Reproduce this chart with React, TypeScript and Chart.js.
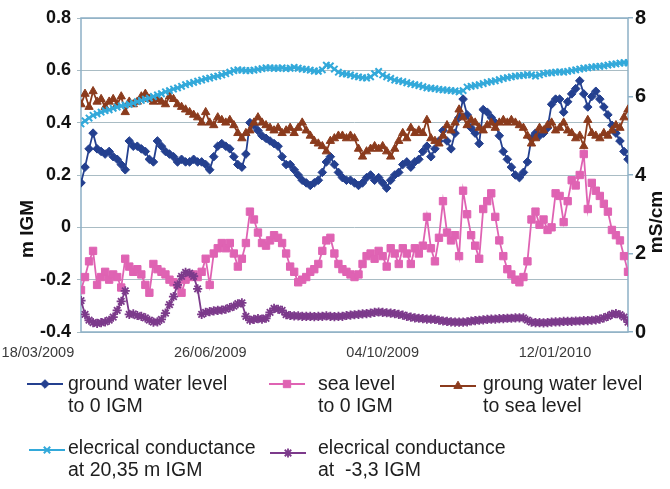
import React, { useEffect, useRef } from 'react';
import { Chart, registerables } from 'chart.js';
import { drawPoint } from 'chart.js/helpers';

Chart.register(...registerables);

// Time axis: days counted from 18/03/2009
const xTickDays = [0, 100, 200, 300];
const xTickLabels = ['18/03/2009', '26/06/2009', '04/10/2009', '12/01/2010'];
const firstSampleDay = 25;
const sampleStepDays = 7 / 3;

// ground water level to 0 IGM (m)
const groundWater = [
  0.17, 0.23, 0.30, 0.36, 0.30, 0.29, 0.28, 0.29, 0.27, 0.26,
  0.24, 0.22, 0.33, 0.31, 0.31, 0.30, 0.29, 0.26, 0.25, 0.33,
  0.31, 0.29, 0.28, 0.27, 0.25, 0.26, 0.25, 0.25, 0.26, 0.25,
  0.25, 0.24, 0.22, 0.27, 0.31, 0.32, 0.31, 0.30, 0.27, 0.24,
  0.23, 0.28, 0.40, 0.39, 0.37, 0.35, 0.34, 0.33, 0.32, 0.31,
  0.27, 0.24, 0.24, 0.22, 0.20, 0.18, 0.17, 0.16, 0.17, 0.18,
  0.21, 0.25, 0.27, 0.24, 0.21, 0.19, 0.18, 0.18, 0.17, 0.16,
  0.17, 0.19, 0.20, 0.18, 0.19, 0.17, 0.15, 0.18, 0.20, 0.21,
  0.24, 0.25, 0.23, 0.25, 0.26, 0.29, 0.31, 0.27, 0.30, 0.33,
  0.37, 0.33, 0.30, 0.36, 0.42, 0.49, 0.43, 0.38, 0.36, 0.32,
  0.45, 0.44, 0.42, 0.40, 0.35, 0.29, 0.26, 0.23, 0.20, 0.19,
  0.21, 0.25, 0.34, 0.36, 0.35, 0.36, 0.38, 0.47, 0.49, 0.49,
  0.44, 0.48, 0.51, 0.53, 0.56, 0.51, 0.46, 0.50, 0.52, 0.49,
  0.46, 0.43, 0.39, 0.36, 0.33, 0.29, 0.26,
];

// sea level to 0 IGM (m)
const seaLevel = [
  -0.24, -0.19, -0.13, -0.09, -0.22, -0.19, -0.17, -0.20, -0.18, -0.19,
  -0.23, -0.12, -0.15, -0.17, -0.16, -0.18, -0.22, -0.25, -0.14, -0.16,
  -0.17, -0.18, -0.20, -0.21, -0.22, -0.25, -0.20, -0.19, -0.18, -0.19,
  -0.17, -0.12, -0.22, -0.10, -0.08, -0.06, -0.08, -0.06, -0.10, -0.15,
  -0.12, -0.06, 0.06, 0.03, -0.02, -0.06, -0.07, -0.05, -0.03, -0.04,
  -0.06, -0.10, -0.15, -0.17, -0.21, -0.20, -0.19, -0.17, -0.16, -0.14,
  -0.09, -0.05, -0.04, -0.10, -0.14, -0.16, -0.17, -0.18, -0.19, -0.18,
  -0.14, -0.11, -0.10, -0.12, -0.09, -0.11, -0.15, -0.08, -0.10, -0.14,
  -0.08, -0.10, -0.14, -0.08, -0.10, -0.07, 0.04, -0.08, -0.13, -0.04,
  0.10, -0.02, -0.05, -0.03, -0.11, 0.14, 0.05, -0.03, -0.07, -0.12,
  0.07, 0.10, 0.13, 0.04, -0.05, -0.11, -0.16, -0.18, -0.20, -0.21,
  -0.19, -0.13, 0.03, 0.06, 0.01, 0.03, -0.01, 0.00, 0.13, 0.12,
  0.02, 0.10, 0.18, 0.16, 0.20, 0.28, 0.07, 0.17, 0.14, 0.12,
  0.09, 0.06, -0.01, -0.03, -0.05, -0.11, -0.17,
];

// ground water level to sea level (m)
const groundToSea = [
  0.47, 0.51, 0.46, 0.52, 0.48, 0.49, 0.46, 0.48, 0.49, 0.47,
  0.50, 0.44, 0.48, 0.47, 0.48, 0.50, 0.51, 0.49, 0.48, 0.49,
  0.48, 0.47, 0.50, 0.49, 0.47, 0.46, 0.45, 0.44, 0.43, 0.42,
  0.40, 0.44, 0.40, 0.39, 0.42, 0.41, 0.40, 0.41, 0.39, 0.36,
  0.34, 0.36, 0.37, 0.40, 0.42, 0.40, 0.39, 0.38, 0.37, 0.38,
  0.36, 0.37, 0.38, 0.36, 0.38, 0.40, 0.37, 0.35, 0.33, 0.32,
  0.31, 0.29, 0.33, 0.34, 0.35, 0.35, 0.34, 0.35, 0.34, 0.30,
  0.27, 0.29, 0.30, 0.31, 0.30, 0.31, 0.29, 0.27, 0.30, 0.33,
  0.36, 0.34, 0.38, 0.36, 0.37, 0.36, 0.41, 0.34, 0.33, 0.32,
  0.35, 0.39, 0.37, 0.40, 0.45, 0.42, 0.39, 0.41, 0.40, 0.38,
  0.37, 0.39, 0.40, 0.38, 0.40, 0.41, 0.40, 0.41, 0.40, 0.39,
  0.38, 0.35, 0.32, 0.34, 0.38, 0.37, 0.39, 0.40, 0.37, 0.38,
  0.40, 0.37, 0.36, 0.34, 0.35, 0.31, 0.41, 0.36, 0.35, 0.34,
  0.36, 0.35, 0.37, 0.39, 0.38, 0.42, 0.45,
];

// electrical conductance at 20,35 m IGM (mS/cm)
const ecUpper = [
  5.30, 5.38, 5.45, 5.52, 5.56, 5.60, 5.64, 5.66, 5.70, 5.73,
  5.76, 5.78, 5.80, 5.83, 5.87, 5.90, 5.93, 5.96, 6.00, 6.04,
  6.07, 6.12, 6.15, 6.19, 6.22, 6.26, 6.30, 6.33, 6.36, 6.39,
  6.42, 6.45, 6.47, 6.50, 6.52, 6.55, 6.58, 6.62, 6.66, 6.68,
  6.67, 6.66, 6.66, 6.67, 6.69, 6.71, 6.73, 6.73, 6.72, 6.72,
  6.73, 6.71, 6.72, 6.74, 6.72, 6.70, 6.69, 6.67, 6.65, 6.64,
  6.68, 6.80, 6.78, 6.70, 6.62, 6.58, 6.57, 6.55, 6.52, 6.50,
  6.48, 6.47, 6.50, 6.58, 6.64, 6.55, 6.50, 6.46, 6.42, 6.40,
  6.38, 6.35, 6.32, 6.30, 6.28, 6.25, 6.22, 6.21, 6.20, 6.18,
  6.17, 6.16, 6.15, 6.14, 6.12, 6.15, 6.24, 6.26, 6.28, 6.30,
  6.33, 6.36, 6.38, 6.40, 6.43, 6.46, 6.48, 6.50, 6.52, 6.53,
  6.54, 6.56, 6.55, 6.52, 6.55, 6.58, 6.60, 6.60, 6.62, 6.63,
  6.62, 6.64, 6.66, 6.68, 6.70, 6.72, 6.73, 6.75, 6.76, 6.77,
  6.78, 6.80, 6.82, 6.83, 6.85, 6.86, 6.86,
];

// electrical conductance at -3,3 IGM (mS/cm)
const ecLower = [
  0.80, 0.45, 0.30, 0.24, 0.22, 0.24, 0.26, 0.30, 0.38, 0.55,
  0.78, 1.05, 0.45, 0.46, 0.42, 0.40, 0.36, 0.30, 0.25, 0.26,
  0.32, 0.48, 0.70, 0.90, 1.20, 1.42, 1.52, 1.50, 1.42, 1.10,
  0.45, 0.50, 0.52, 0.54, 0.55, 0.56, 0.58, 0.62, 0.66, 0.72,
  0.74, 0.40, 0.30, 0.32, 0.34, 0.33, 0.35, 0.50, 0.60, 0.58,
  0.55, 0.44, 0.42, 0.41, 0.41, 0.40, 0.40, 0.40, 0.39, 0.40,
  0.40, 0.41, 0.40, 0.39, 0.40, 0.40, 0.42, 0.43, 0.44, 0.45,
  0.46, 0.47, 0.48, 0.50, 0.51, 0.50, 0.49, 0.48, 0.47, 0.45,
  0.43, 0.40, 0.38, 0.36, 0.35, 0.34, 0.33, 0.33, 0.32, 0.30,
  0.28, 0.27, 0.26, 0.25, 0.25, 0.25, 0.26, 0.28, 0.29, 0.30,
  0.31, 0.32, 0.33, 0.33, 0.34, 0.34, 0.35, 0.35, 0.36, 0.36,
  0.36, 0.30, 0.25, 0.24, 0.24, 0.23, 0.24, 0.25, 0.26, 0.26,
  0.27, 0.27, 0.27, 0.28, 0.28, 0.29, 0.29, 0.30, 0.31, 0.33,
  0.36, 0.40, 0.45, 0.47, 0.44, 0.38, 0.25,
];

const legendLines = [
  ['ground water level', 'to 0 IGM'],
  ['sea level', 'to 0 IGM'],
  ['groung water level', 'to sea level'],
  ['elecrical conductance', 'at 20,35 m IGM'],
  ['elecrical conductance', 'at  -3,3 IGM'],
];

const SANS = '"Liberation Sans", Arial, sans-serif';
const FRAME = '#8db0c6';
const GRID = '#a9bcc4';

// legend block placement: sample centre (sx, sy) and text start (tx, ty)
const legendPlacement = [
  { sx: 45, sy: 384, tx: 68, ty: 385 },
  { sx: 287, sy: 384, tx: 318, ty: 385 },
  { sx: 458, sy: 386, tx: 483, ty: 385 },
  { sx: 47, sy: 450, tx: 68, ty: 449 },
  { sx: 288, sy: 453, tx: 318, ty: 449 },
];

const toPoints = (values: number[]) =>
  values.map((v, i) => ({ x: firstSampleDay + i * sampleStepDays, y: v }));

const chartDecor = {
  id: 'chartDecor',
  beforeDatasetsDraw(chart: any) {
    const { ctx, chartArea: a } = chart;
    ctx.save();
    ctx.strokeStyle = FRAME;
    ctx.lineWidth = 1.5;
    ctx.strokeRect(a.left, a.top, a.right - a.left, a.bottom - a.top);
    ctx.restore();
  },
  afterDraw(chart: any) {
    const { ctx } = chart;
    const vertical = (text: string, x: number, y: number) => {
      ctx.save();
      ctx.fillStyle = '#111';
      ctx.textAlign = 'center';
      ctx.textBaseline = 'middle';
      ctx.font = `bold 19px ${SANS}`;
      ctx.translate(x, y);
      ctx.rotate(-Math.PI / 2);
      ctx.fillText(text, 0, 0);
      ctx.restore();
    };
    vertical('m IGM', 28, 229);
    vertical('mS/cm', 657, 222);

    ctx.save();
    ctx.textAlign = 'left';
    ctx.textBaseline = 'middle';
    ctx.font = `19.5px ${SANS}`;
    legendPlacement.forEach((p, i) => {
      const ds = chart.data.datasets[i];
      ctx.strokeStyle = ds.borderColor;
      ctx.lineWidth = 2;
      ctx.beginPath();
      ctx.moveTo(p.sx - 18, p.sy);
      ctx.lineTo(p.sx + 18, p.sy);
      ctx.stroke();
      ctx.fillStyle = ds.pointBackgroundColor;
      ctx.strokeStyle = ds.pointBorderColor;
      ctx.lineWidth = ds.pointBorderWidth;
      drawPoint(
        ctx,
        { pointStyle: ds.pointStyle, radius: ds.pointRadius, borderWidth: ds.pointBorderWidth, rotation: 0 } as any,
        p.sx,
        p.sy,
      );
      ctx.fillStyle = '#1e1e1e';
      legendLines[i].forEach((t, k) => ctx.fillText(t, p.tx, p.ty + k * 22));
    });
    ctx.restore();
  },
};

function series(label: string, values: number[], color: string, axis: string, style: string, radius: number, order: number, pbw = 1) {
  return {
    label,
    data: toPoints(values),
    yAxisID: axis,
    borderColor: color,
    backgroundColor: color,
    borderWidth: 1.8,
    pointStyle: style,
    pointRadius: radius,
    pointBorderWidth: pbw,
    pointBackgroundColor: color,
    pointBorderColor: color,
    tension: 0,
    order,
  };
}

export default function App() {
  const canvasRef = useRef<HTMLCanvasElement | null>(null);

  useEffect(() => {
    if (!canvasRef.current) return;
    const chart = new Chart(canvasRef.current, {
      type: 'line',
      data: {
        datasets: [
          series(legendLines[0].join(' '), groundWater, '#24408f', 'y', 'rectRot', 4.3, 5),
          series(legendLines[1].join(' '), seaLevel, '#df63b3', 'y', 'rect', 5.2, 4),
          series(legendLines[2].join(' '), groundToSea, '#8b3b1d', 'y', 'triangle', 4.8, 3),
          series(legendLines[3].join(' '), ecUpper, '#33a9da', 'y1', 'crossRot', 4.5, 2, 2),
          series(legendLines[4].join(' '), ecLower, '#7c3a8b', 'y1', 'star', 4.6, 1, 1.8),
        ] as any,
      },
      options: {
        animation: false,
        responsive: false,
        devicePixelRatio: 1,
        layout: { padding: { top: 18, left: 0, right: 0, bottom: 119 } },
        plugins: { legend: { display: false }, tooltip: { enabled: false } },
        scales: {
          x: {
            type: 'linear',
            min: firstSampleDay,
            max: firstSampleDay + (groundWater.length - 1) * sampleStepDays,
            grid: { display: false, drawTicks: false },
            border: { display: false },
            afterBuildTicks: (scale: any) => {
              scale.ticks = xTickDays.map((v) => ({ value: v }));
            },
            afterFit: (scale: any) => {
              scale.height = 38;
              scale.paddingLeft = 0;
              scale.paddingRight = 0;
            },
            ticks: {
              autoSkip: false,
              maxRotation: 0,
              padding: 12,
              color: '#3a3a3a',
              font: { family: SANS, size: 14.5 },
              callback: (_v: any, i: number) => xTickLabels[i],
            },
          },
          y: {
            position: 'left',
            min: -0.4,
            max: 0.8,
            grid: { color: GRID, lineWidth: 1, tickLength: 4 },
            border: { display: false },
            afterFit: (scale: any) => {
              scale.width = 81;
            },
            ticks: {
              stepSize: 0.2,
              padding: 6,
              color: '#111',
              font: { family: SANS, size: 18, weight: 'bold' },
              callback: (v: any) => String(Number(Number(v).toFixed(1))),
            },
          },
          y1: {
            position: 'right',
            min: 0,
            max: 8,
            grid: { drawOnChartArea: false, color: FRAME, tickLength: 5, lineWidth: 1.5 },
            border: { display: false },
            afterFit: (scale: any) => {
              scale.width = 42;
            },
            ticks: {
              stepSize: 2,
              padding: 2,
              color: '#111',
              font: { family: SANS, size: 20, weight: 'bold' },
            },
          },
        },
      },
      plugins: [chartDecor],
    } as any);
    return () => chart.destroy();
  }, []);

  return (
    <div style={{ position: 'absolute', left: 0, top: 0, width: 670, height: 489, background: '#fff' }}>
      <canvas ref={canvasRef} width={670} height={489} style={{ width: 670, height: 489, display: 'block' }} />
    </div>
  );
}
